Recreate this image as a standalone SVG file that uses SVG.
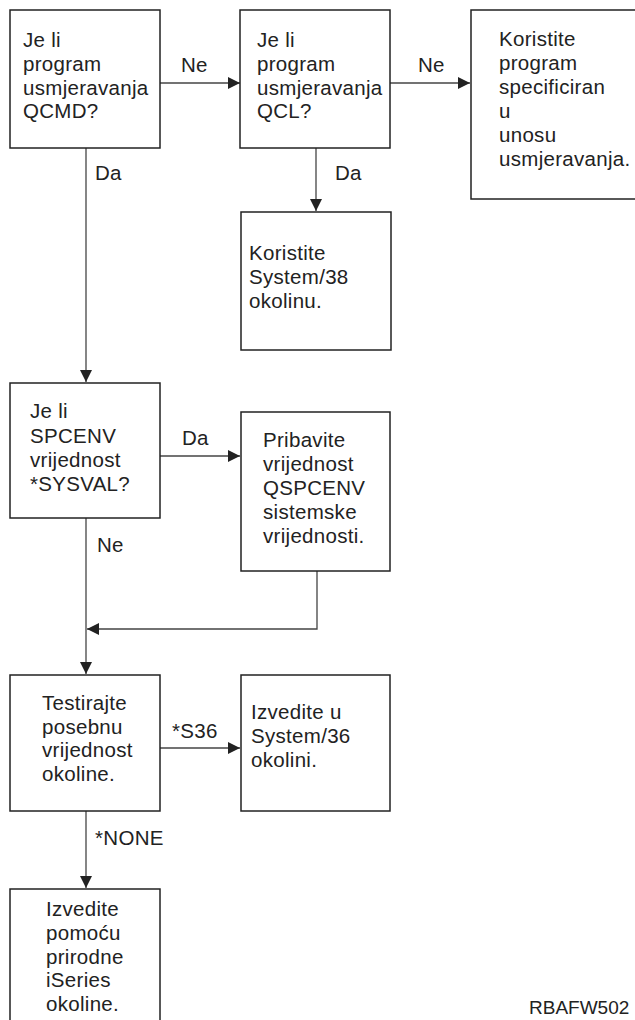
<svg xmlns="http://www.w3.org/2000/svg" width="635" height="1020" viewBox="0 0 635 1020">
<style>
.box{fill:#fff;stroke:#222;stroke-width:1.5}
.t{font-family:"Liberation Sans",Arial,sans-serif;font-size:20.5px;fill:#222;letter-spacing:0.3px}
.c{fill:none;stroke:#444;stroke-width:1.3}
</style>
<defs>
<marker id="ah" viewBox="0 0 12 12" refX="12" refY="6" markerWidth="12" markerHeight="12" markerUnits="userSpaceOnUse" orient="auto">
<path d="M0,0 L12,6 L0,12 Z" fill="#222"/>
</marker>
</defs>
<rect width="635" height="1020" fill="#fff"/>
<g id="connectors">
<line class="c" x1="160" y1="83" x2="240" y2="83" marker-end="url(#ah)"/>
<text class="t" x="181" y="72">Ne</text>
<line class="c" x1="390" y1="83" x2="470" y2="83" marker-end="url(#ah)"/>
<text class="t" x="418" y="72">Ne</text>
<line class="c" x1="316" y1="148" x2="316" y2="211" marker-end="url(#ah)"/>
<text class="t" x="335" y="180">Da</text>
<line class="c" x1="86" y1="148" x2="86" y2="382" marker-end="url(#ah)"/>
<text class="t" x="95" y="180">Da</text>
<line class="c" x1="160" y1="456" x2="240" y2="456" marker-end="url(#ah)"/>
<text class="t" x="182" y="445">Da</text>
<polyline class="c" points="317,571 317,629 87,629" marker-end="url(#ah)"/>
<line class="c" x1="86" y1="518" x2="86" y2="674" marker-end="url(#ah)"/>
<text class="t" x="97" y="552">Ne</text>
<line class="c" x1="160" y1="748" x2="240" y2="748" marker-end="url(#ah)"/>
<text class="t" x="172" y="738">*S36</text>
<line class="c" x1="86" y1="811" x2="86" y2="888" marker-end="url(#ah)"/>
<text class="t" x="95" y="845">*NONE</text>
</g>
<g id="n1">
<rect class="box" x="10" y="10" width="150" height="138"/>
<text class="t" x="23" y="47">Je li</text>
<text class="t" x="23" y="71">program</text>
<text class="t" x="23" y="95">usmjeravanja</text>
<text class="t" x="23" y="118">QCMD?</text>
</g>
<g id="n2">
<rect class="box" x="240" y="10" width="150" height="138"/>
<text class="t" x="257" y="47">Je li</text>
<text class="t" x="257" y="71">program</text>
<text class="t" x="257" y="95">usmjeravanja</text>
<text class="t" x="257" y="118">QCL?</text>
</g>
<g id="n3">
<rect class="box" x="471" y="10" width="170" height="189"/>
<text class="t" x="499" y="46">Koristite</text>
<text class="t" x="499" y="70">program</text>
<text class="t" x="499" y="94">specificiran</text>
<text class="t" x="499" y="118">u</text>
<text class="t" x="499" y="142">unosu</text>
<text class="t" x="499" y="166">usmjeravanja.</text>
</g>
<g id="n4">
<rect class="box" x="241" y="212" width="150" height="138"/>
<text class="t" x="249" y="260">Koristite</text>
<text class="t" x="249" y="284">System/38</text>
<text class="t" x="249" y="308">okolinu.</text>
</g>
<g id="n5">
<rect class="box" x="10" y="383" width="150" height="135"/>
<text class="t" x="30" y="418">Je li</text>
<text class="t" x="30" y="443">SPCENV</text>
<text class="t" x="30" y="467">vrijednost</text>
<text class="t" x="30" y="491">*SYSVAL?</text>
</g>
<g id="n6">
<rect class="box" x="241" y="412" width="149" height="159"/>
<text class="t" x="263" y="447">Pribavite</text>
<text class="t" x="263" y="471">vrijednost</text>
<text class="t" x="263" y="495">QSPCENV</text>
<text class="t" x="263" y="519">sistemske</text>
<text class="t" x="263" y="543">vrijednosti.</text>
</g>
<g id="n7">
<rect class="box" x="10" y="675" width="150" height="136"/>
<text class="t" x="42" y="710">Testirajte</text>
<text class="t" x="42" y="734">posebnu</text>
<text class="t" x="42" y="757">vrijednost</text>
<text class="t" x="42" y="781">okoline.</text>
</g>
<g id="n8">
<rect class="box" x="241" y="675" width="149" height="136"/>
<text class="t" x="251" y="719">Izvedite u</text>
<text class="t" x="251" y="743">System/36</text>
<text class="t" x="251" y="767">okolini.</text>
</g>
<g id="n9">
<rect class="box" x="10" y="889" width="150" height="150"/>
<text class="t" x="46" y="916">Izvedite</text>
<text class="t" x="46" y="940">pomoću</text>
<text class="t" x="46" y="964">prirodne</text>
<text class="t" x="46" y="987">iSeries</text>
<text class="t" x="46" y="1011">okoline.</text>
</g>
<text class="t" x="529" y="1014" style="font-size:19px;letter-spacing:0">RBAFW502</text>
</svg>
